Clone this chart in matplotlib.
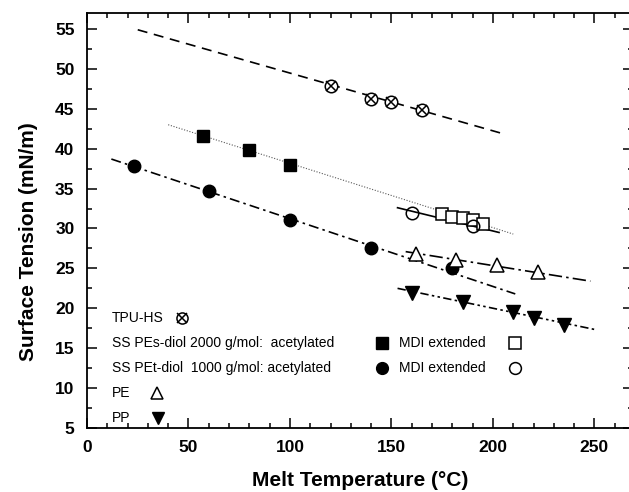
import matplotlib
matplotlib.use("Agg")
import matplotlib.pyplot as plt
from matplotlib.ticker import MultipleLocator

plt.rcParams['font.family'] = ['Liberation Sans', 'DejaVu Sans']

# ---- data ----
tpu_x = [120, 140, 150, 165]
tpu_y = [47.8, 46.2, 45.9, 44.9]
tpu_fit_x = [25, 206]
tpu_fit_y = [54.9, 41.8]

pes_ac_x = [57, 80, 100]
pes_ac_y = [41.6, 39.8, 37.9]
pes_fit_x = [40, 210]
pes_fit_y = [43.0, 29.3]

pes_mdi_x = [175, 180, 185, 190, 195]
pes_mdi_y = [31.8, 31.5, 31.3, 31.0, 30.6]

pet_ac_x = [23, 60, 100, 140, 180]
pet_ac_y = [37.8, 34.7, 31.0, 27.6, 25.0]
pet_fit_x = [12, 211]
pet_fit_y = [38.7, 21.8]

pet_mdi_x = [160, 190]
pet_mdi_y = [32.0, 30.3]
mdi_fit_x = [153, 203]
mdi_fit_y = [32.6, 29.5]

pe_x = [162, 182, 202, 222]
pe_y = [26.8, 26.1, 25.4, 24.5]
pe_fit_x = [157, 248]
pe_fit_y = [27.1, 23.4]

pp_x = [160, 185, 210, 220, 235]
pp_y = [21.9, 20.8, 19.5, 18.8, 17.9]
pp_fit_x = [153, 251]
pp_fit_y = [22.5, 17.3]

xlabel = "Melt Temperature (°C)"
ylabel = "Surface Tension (mN/m)"

# ---- figure ----
W, H = 629, 492
fig = plt.figure(figsize=(W / 100, H / 100), dpi=100)
left, right, top, bottom = 87, 633, 13, 428
ax = fig.add_axes([left / W, (H - bottom) / H, (right - left) / W, (bottom - top) / H])
ax.set_xlim(0, 269)
ax.set_ylim(5, 57)

lw = 1.2
ax.plot(tpu_fit_x, tpu_fit_y, color='black', lw=lw, linestyle=(0, (6, 4)))
ax.plot(pes_fit_x, pes_fit_y, color='0.35', lw=0.8, linestyle=(0, (1, 1.5)))
ax.plot(pet_fit_x, pet_fit_y, color='black', lw=lw, linestyle=(0, (6, 2.5, 1.5, 2.5)))
ax.plot(mdi_fit_x, mdi_fit_y, color='black', lw=lw, linestyle='-')
ax.plot(pe_fit_x, pe_fit_y, color='black', lw=lw, linestyle=(0, (8, 2.5, 1.5, 2.5)))
ax.plot(pp_fit_x, pp_fit_y, color='black', lw=lw, linestyle=(0, (5, 2, 1.5, 2, 1.5, 2)))

mk = dict(linestyle='none', color='black', zorder=5)
ax.plot(tpu_x, tpu_y, marker='o', ms=9, mfc='white', mec='black', mew=1.1, **mk)
ax.plot(tpu_x, tpu_y, marker='x', ms=7.5, mew=1.1, **mk)
ax.plot(pes_ac_x, pes_ac_y, marker='s', ms=8.5, mfc='black', mec='black', **mk)
ax.plot(pes_mdi_x, pes_mdi_y, marker='s', ms=8.5, mfc='white', mec='black', mew=1.1, **mk)
ax.plot(pet_ac_x, pet_ac_y, marker='o', ms=9, mfc='black', mec='black', **mk)
ax.plot(pet_mdi_x, pet_mdi_y, marker='o', ms=9, mfc='none', mec='black', mew=1.1, **mk)
ax.plot(pe_x, pe_y, marker='^', ms=10, mfc='white', mec='black', mew=1.1, **mk)
ax.plot(pp_x, pp_y, marker='v', ms=10, mfc='black', mec='black', **mk)

# ---- in-plot legend ----
fs = 10
tx = 12.2
rows = [18.8, 15.65, 12.5, 9.35, 6.2]
ax.text(tx, rows[0], "TPU-HS", fontsize=fs, va='center', ha='left')
ax.plot([46.6], [rows[0]], marker='o', ms=8, mfc='white', mec='black', mew=1.1, **mk)
ax.plot([46.6], [rows[0]], marker='x', ms=6.5, mew=1.1, **mk)
ax.text(tx, rows[1], "SS PEs-diol 2000 g/mol:  acetylated", fontsize=fs, va='center', ha='left')
ax.plot([145.2], [rows[1]], marker='s', ms=8, mfc='black', mec='black', **mk)
ax.text(153.7, rows[1], "MDI extended", fontsize=fs, va='center', ha='left')
ax.plot([210.8], [rows[1]], marker='s', ms=8, mfc='white', mec='black', mew=1.1, **mk)
ax.text(tx, rows[2], "SS PEt-diol  1000 g/mol: acetylated", fontsize=fs, va='center', ha='left')
ax.plot([145.2], [rows[2]], marker='o', ms=8.5, mfc='black', mec='black', **mk)
ax.text(153.7, rows[2], "MDI extended", fontsize=fs, va='center', ha='left')
ax.plot([210.8], [rows[2]], marker='o', ms=8.5, mfc='white', mec='black', mew=1.1, **mk)
ax.text(tx, rows[3], "PE", fontsize=fs, va='center', ha='left')
ax.plot([34.3], [rows[3]], marker='^', ms=8.5, mfc='white', mec='black', mew=1.1, **mk)
ax.text(tx, rows[4], "PP", fontsize=fs, va='center', ha='left')
ax.plot([35.1], [rows[4]], marker='v', ms=8.5, mfc='black', mec='black', **mk)

# ---- axes styling ----
ax.xaxis.set_major_locator(MultipleLocator(50))
ax.xaxis.set_minor_locator(MultipleLocator(10))
ax.yaxis.set_major_locator(MultipleLocator(5))
ax.yaxis.set_minor_locator(MultipleLocator(2.5))
ax.tick_params(which='both', direction='in', top=True, right=True, width=1.1)
ax.tick_params(which='major', length=7, labelsize=12.5, pad=9)
ax.tick_params(which='minor', length=3.5)
for lab in ax.get_xticklabels() + ax.get_yticklabels():
    lab.set_fontweight('bold')
for s in ax.spines.values():
    s.set_linewidth(1.3)

ax.set_xlabel(xlabel, fontsize=15, fontweight='bold', labelpad=11)
ax.set_ylabel(ylabel, fontsize=15, fontweight='bold')
ax.yaxis.set_label_coords(-0.09, 0.45)

fig.savefig("out.png", dpi=100)
